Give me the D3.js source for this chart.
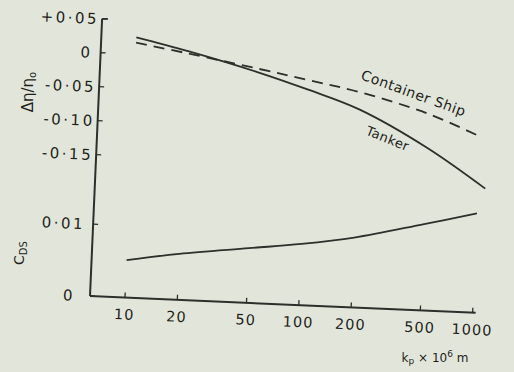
<!DOCTYPE html>
<html><head><meta charset="utf-8">
<script src="https://cdn.jsdelivr.net/npm/d3@7"></script>
<style>
html,body{margin:0;padding:0;background:#e2e6da;}
svg{display:block;font-family:"DejaVu Sans",sans-serif;}
</style></head>
<body>
<svg id="chart" width="514" height="372"></svg>
<script>
// ---- data ----
const xTicks = [10, 20, 50, 100, 200, 500, 1000];
const xTickLabels = ["10", "20", "50", "100", "200", "500", "1000"];
const etaTicks = [0.05, 0, -0.05, -0.10, -0.15];
const etaTickLabels = ["+0·05", "0", "-0·05", "-0·10", "-0·15"];
const cdsTicks = [0.01, 0];
const cdsTickLabels = ["0·01", "0"];

const tankerK = [10, 20, 50, 100, 200, 500, 1100];
const tankerV = [0.025, 0.008, -0.018, -0.041, -0.067, -0.119, -0.175];
const containerK = [10, 20, 50, 100, 200, 500, 1000];
const containerV = [0.017, 0.0045, -0.013, -0.027, -0.0415, -0.069, -0.099];
const cdsK = [10, 20, 50, 100, 200, 500, 1000];
const cdsV = [0.0052, 0.0064, 0.0076, 0.0085, 0.0097, 0.0120, 0.0138];

// ---- drawing ----
const svg = d3.select("#chart");
svg.append("rect").attr("width", 514).attr("height", 372).attr("fill", "#e2e6da");
const ink = "#2e2e2a";
const g = svg.append("g").attr("transform", "translate(90,296) rotate(2.5)");

const x = d3.scaleLog().domain([10, 1000]).range([35, 383]);
const yEta = d3.scaleLinear().domain([-0.15, 0.05]).range([-141.5, -277.5]);
const yCds = d3.scaleLinear().domain([0, 0.01]).range([0, -72]);

// axes lines
g.append("line").attr("x1", 0).attr("y1", 0).attr("x2", 386).attr("y2", 0)
  .attr("stroke", ink).attr("stroke-width", 2);
g.append("line").attr("x1", 0).attr("y1", 0).attr("x2", 0).attr("y2", yEta(0.05))
  .attr("stroke", ink).attr("stroke-width", 2);
g.append("line").attr("x1", 0).attr("y1", yEta(0.05)).attr("x2", 6).attr("y2", yEta(0.05))
  .attr("stroke", ink).attr("stroke-width", 1.5);

// x ticks
xTicks.forEach((t, i) => {
  g.append("line").attr("x1", x(t)).attr("x2", x(t)).attr("y1", 0).attr("y2", -5)
    .attr("stroke", ink).attr("stroke-width", 1.3);
  g.append("text").attr("x", x(t)).attr("y", 22).attr("text-anchor", "middle")
    .attr("font-size", 14.5).attr("letter-spacing", 1).attr("fill", "#1e1e1a")
    .text(xTickLabels[i]);
});

// eta ticks
etaTicks.forEach((t, i) => {
  g.append("line").attr("x1", 0).attr("x2", 5).attr("y1", yEta(t)).attr("y2", yEta(t))
    .attr("stroke", ink).attr("stroke-width", 1.3);
  const off = t === 0 ? 8 : 3;
  g.append("text").attr("x", -off).attr("y", yEta(t) + 5.5).attr("text-anchor", "end")
    .attr("font-size", 15).attr("letter-spacing", 2.5).attr("fill", "#1e1e1a")
    .text(etaTickLabels[i]);
});

// cds ticks
cdsTicks.forEach((t, i) => {
  g.append("line").attr("x1", 0).attr("x2", 5).attr("y1", yCds(t)).attr("y2", yCds(t))
    .attr("stroke", ink).attr("stroke-width", 1.3);
  const off = t === 0 ? 15 : 8;
  g.append("text").attr("x", -off).attr("y", yCds(t) + 5.5).attr("text-anchor", "end")
    .attr("font-size", 15).attr("letter-spacing", 2.5).attr("fill", "#1e1e1a")
    .text(cdsTickLabels[i]);
});

// curves
const lineEta = d3.line().x(d => x(d[0])).y(d => yEta(d[1])).curve(d3.curveCatmullRom.alpha(0.5));
const lineCds = d3.line().x(d => x(d[0])).y(d => yCds(d[1])).curve(d3.curveCatmullRom.alpha(0.5));

g.append("path").attr("d", lineEta(d3.zip(tankerK, tankerV)))
  .attr("fill", "none").attr("stroke", ink).attr("stroke-width", 1.8);
g.append("path").attr("d", lineEta(d3.zip(containerK, containerV)))
  .attr("fill", "none").attr("stroke", ink).attr("stroke-width", 1.8)
  .attr("stroke-dasharray", "11,7");
g.append("path").attr("d", lineCds(d3.zip(cdsK, cdsV)))
  .attr("fill", "none").attr("stroke", ink).attr("stroke-width", 1.8);

// curve labels
g.append("text").attr("transform", "translate(313,-212) rotate(17.5)")
  .attr("text-anchor", "middle").attr("font-size", 14).attr("letter-spacing", 0.5)
  .attr("fill", "#1e1e1a").text("Container Ship");
g.append("text").attr("transform", "translate(289,-166) rotate(19.5)")
  .attr("text-anchor", "middle").attr("font-size", 13).attr("letter-spacing", 0.5)
  .attr("fill", "#1e1e1a").text("Tanker");

// axis titles (screen coordinates)
const yt = svg.append("text").attr("transform", "translate(33,92) rotate(-90)")
  .attr("text-anchor", "middle").attr("font-size", 15).attr("fill", "#1e1e1a");
yt.append("tspan").text("Δη/η");
yt.append("tspan").attr("font-size", 10).attr("dy", 3).text("o");

const ct = svg.append("text").attr("transform", "translate(24,253) rotate(-90)")
  .attr("text-anchor", "middle").attr("font-size", 14).attr("fill", "#1e1e1a");
ct.append("tspan").text("C");
ct.append("tspan").attr("font-size", 10).attr("dy", 3).text("DS");

const xt = svg.append("text").attr("x", 435).attr("y", 362)
  .attr("text-anchor", "middle").attr("font-size", 12).attr("fill", "#1e1e1a");
xt.append("tspan").text("k");
xt.append("tspan").attr("font-size", 9).attr("dy", 2).text("p");
xt.append("tspan").attr("dy", -2).text(" × 10");
xt.append("tspan").attr("font-size", 9).attr("dy", -5).text("6");
xt.append("tspan").attr("dy", 5).text(" m");
</script>
</body></html>
